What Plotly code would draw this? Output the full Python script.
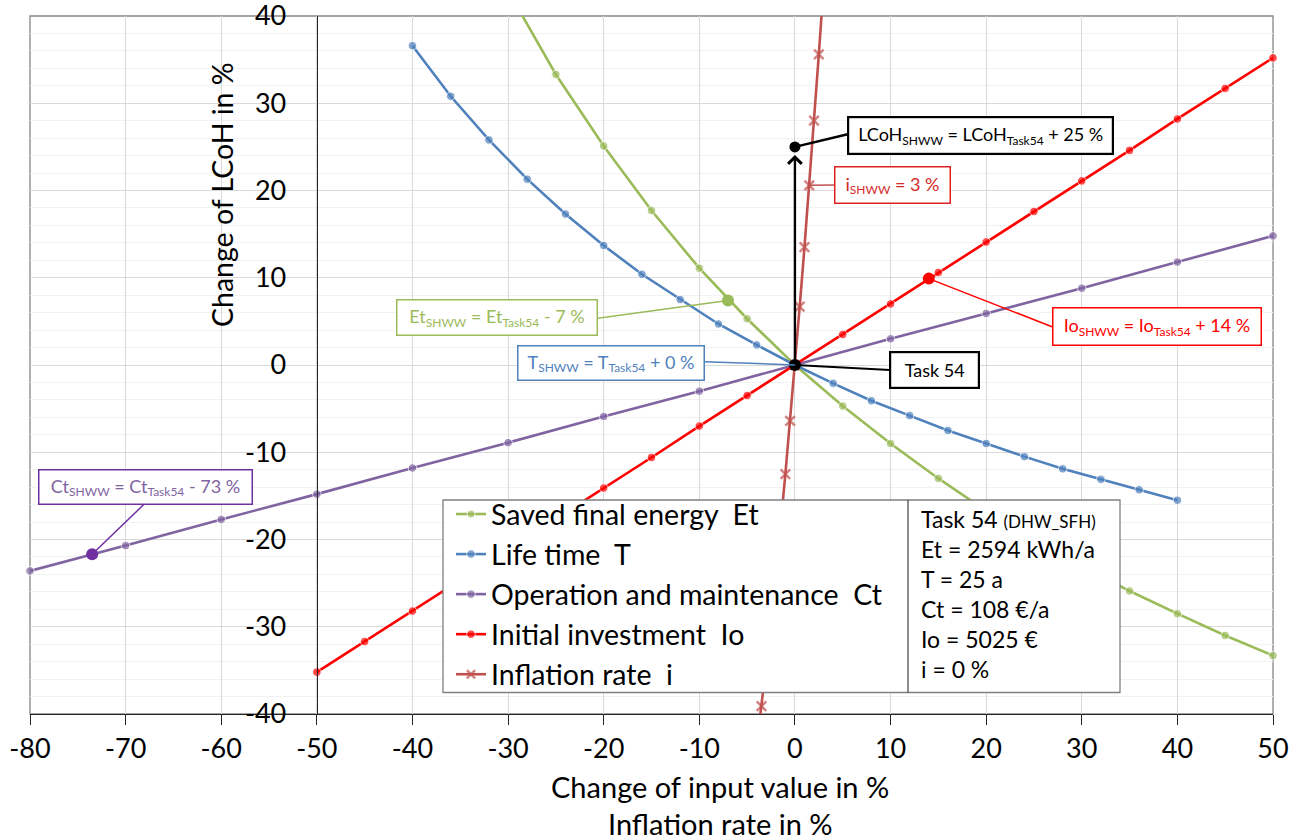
import plotly.graph_objects as go

# ---------------- data ----------------
et_x = [-30, -25, -20, -15, -10, -5, 0, 5, 10, 15, 20, 25, 30, 35, 40, 45, 50]
et_y = [42.9, 33.3, 25.1, 17.7, 11.1, 5.3, 0, -4.7, -9.0, -13.0, -16.7, -20.0, -23.1, -25.9, -28.5, -31.0, -33.3]

t_x = [-40, -36, -32, -28, -24, -20, -16, -12, -8, -4, 0, 4, 8, 12, 16, 20, 24, 28, 32, 36, 40]
t_y = [36.6, 30.8, 25.8, 21.3, 17.3, 13.7, 10.4, 7.5, 4.7, 2.3, 0, -2.1, -4.1, -5.8, -7.5, -9.0, -10.5, -11.9, -13.1, -14.3, -15.5]

ct_x = [-80, -70, -60, -50, -40, -30, -20, -10, 0, 10, 20, 30, 40, 50]
ct_y = [-23.6, -20.7, -17.7, -14.8, -11.8, -8.9, -5.9, -3.0, 0, 3.0, 5.9, 8.8, 11.8, 14.8]

io_x = [-50, -45, -40, -35, -30, -25, -20, -15, -10, -5, 0, 5, 10, 15, 20, 25, 30, 35, 40, 45, 50]
io_y = [-35.2, -31.7, -28.2, -24.7, -21.1, -17.6, -14.1, -10.6, -7.0, -3.5, 0, 3.5, 7.0, 10.6, 14.1, 17.6, 21.1, 24.6, 28.2, 31.7, 35.2]

inf_x = [-4, -3.5, -3, -2.5, -2, -1.5, -1, -0.5, 0, 0.5, 1, 1.5, 2, 2.5, 3]
inf_y = [-43.6, -39.1, -34.3, -29.3, -24.0, -18.4, -12.5, -6.4, 0, 6.7, 13.5, 20.6, 28.0, 35.6, 43.5]

# highlighted SHWW points
et_hl_x, et_hl_y = [-7], [7.4]
io_hl_x, io_hl_y = [14], [9.9]
ct_hl_x, ct_hl_y = [-73.5], [-21.7]
inf_hl_x, inf_hl_y = [1.5], [20.6]
lcoh_x, lcoh_y = [0], [25]
task_x, task_y = [0], [0]

series_names = ["Saved final energy\u00a0 Et", "Life time\u00a0 T",
                "Operation and maintenance\u00a0 Ct", "Initial investment\u00a0 Io",
                "Inflation rate\u00a0 i"]

x_range = [-80, 50]
y_range = [-40, 40]
x_ticks = list(range(-80, 51, 10))
y_ticks = list(range(-40, 41, 10))
x_ticktext = [str(v) for v in x_ticks]
y_ticktext = [str(v) for v in y_ticks]

info_lines = ["Task 54 <span style='font-size:17px'>(DHW_SFH)</span>",
              "Et = 2594 kWh/a", "T = 25 a", "Ct = 108 €/a", "Io = 5025 €", "i = 0 %"]

# ---------------- styling ----------------
FONT = "Lato"
GREEN, BLUE, PURPLE, RED, BROWN = "#9BBB59", "#4F81BD", "#8064A2", "#FF0000", "#C0504D"
DPURPLE = "#7030A0"

W, H = 1303, 840
L, R, T, B = 30, 30, 16, 126
PW, PH = W - L - R, H - T - B


def pxx(px):
    return (px - L) / PW


def pxy(py):
    return (H - B - py) / PH


def dx(px):
    return x_range[0] + (px - L) / PW * (x_range[1] - x_range[0])


def dy(py):
    return y_range[0] + (H - B - py) / PH * (y_range[1] - y_range[0])


def sizes(xs, ys, s):
    return [s if (x_range[0] <= x <= x_range[1] and y_range[0] <= y <= y_range[1]) else 0
            for x, y in zip(xs, ys)]


def sub(t):
    return "<sub><span style='font-size:12px'>%s</span></sub>" % t


fig = go.Figure()

series = [
    (et_x, et_y, GREEN, "circle"),
    (t_x, t_y, BLUE, "circle"),
    (ct_x, ct_y, PURPLE, "circle"),
    (io_x, io_y, RED, "circle"),
    (inf_x, inf_y, BROWN, "x-thin-open"),
]
for (xs, ys, col, sym), name in zip(series, series_names):
    mk = dict(color=col, size=sizes(xs, ys, 8.5 if sym == "circle" else 9.5), symbol=sym)
    if sym != "circle":
        mk["line"] = dict(color=col, width=2.5)
    fig.add_trace(go.Scatter(x=xs, y=ys, mode="lines+markers", name=name,
                             line=dict(color=col, width=2.6), marker=mk,
                             cliponaxis=False))

for xs, ys, col, s in [(et_hl_x, et_hl_y, GREEN, 12), (io_hl_x, io_hl_y, RED, 12),
                       (ct_hl_x, ct_hl_y, DPURPLE, 12),
                       (lcoh_x, lcoh_y, "black", 11), (task_x, task_y, "black", 12)]:
    fig.add_trace(go.Scatter(x=xs, y=ys, mode="markers", showlegend=False,
                             marker=dict(color=col, size=s), cliponaxis=False))

shapes = []
annotations = []

# plot border
shapes.append(dict(type="rect", xref="paper", yref="paper", x0=0, x1=1, y0=0, y1=1,
                   line=dict(color="#868686", width=1.3), layer="below"))

# connectors: (data point, box end in px, colour, width)
connectors = [
    (lcoh_x[0], lcoh_y[0], 847.7, 134.3, "black", 2.5),
    (inf_hl_x[0], inf_hl_y[0], 835, 185, BROWN, 1.5),
    (io_hl_x[0], io_hl_y[0], 1052, 326.7, RED, 1.5),
    (et_hl_x[0], et_hl_y[0], 597.7, 318.3, GREEN, 1.5),
    (task_x[0], task_y[0], 704.3, 361.7, BLUE, 1.5),
    (task_x[0], task_y[0], 890, 370, "black", 2.2),
    (ct_hl_x[0], ct_hl_y[0], 144, 504.3, DPURPLE, 1.5),
]
for x0, y0, bx, by, col, w in connectors:
    shapes.append(dict(type="line", xref="x", yref="y", x0=x0, y0=y0, x1=dx(bx), y1=dy(by),
                       line=dict(color=col, width=w), layer="above"))

# legend / info box background
shapes.append(dict(type="rect", xref="paper", yref="paper", x0=pxx(443), x1=pxx(1120),
                   y0=pxy(692.5), y1=pxy(500), fillcolor="white",
                   line=dict(color="#808080", width=1.3), layer="above"))
shapes.append(dict(type="line", xref="paper", yref="paper", x0=pxx(908), x1=pxx(908),
                   y0=pxy(692.5), y1=pxy(500), line=dict(color="#404040", width=1.2),
                   layer="above"))

# labelled boxes: text, centre px, size px, text colour, border colour, border width
boxes = [
    ("LCoH" + sub("SHWW") + " = LCoH" + sub("Task54") + " + 25 %", 980.5, 135, 263, 35, "black", "black", 2.2),
    ("i" + sub("SHWW") + " = 3 %", 892.9, 185, 114, 35, "#D42A2A", "#E02020", 1.5),
    ("Io" + sub("SHWW") + " = Io" + sub("Task54") + " + 14 %", 1157.2, 326.2, 207, 36, RED, RED, 1.5),
    ("Et" + sub("SHWW") + " = Et" + sub("Task54") + " - 7 %", 497.2, 317.8, 199, 34, GREEN, GREEN, 1.5),
    ("T" + sub("SHWW") + " = T" + sub("Task54") + " + 0 %", 611, 363.2, 185, 33, BLUE, BLUE, 1.5),
    ("Task 54", 934.7, 370.3, 87, 34, "black", "black", 2.2),
    ("Ct" + sub("SHWW") + " = Ct" + sub("Task54") + " - 73 %", 145.3, 486.7, 212, 33, PURPLE, DPURPLE, 1.5),
]
for txt, cx, cy, bw, bh, tc, bc, lw in boxes:
    annotations.append(dict(text=txt, xref="paper", yref="paper", x=pxx(cx), y=pxy(cy),
                            xanchor="center", yanchor="middle", showarrow=False,
                            width=bw, height=bh, borderpad=0, bgcolor="white",
                            bordercolor=bc, borderwidth=lw,
                            font=dict(family=FONT, size=18, color=tc)))

# arrow from Task 54 point up to LCoH SHWW
annotations.append(dict(x=lcoh_x[0], y=lcoh_y[0], xref="x", yref="y",
                        ax=task_x[0], ay=task_y[0], axref="x", ayref="y", text="",
                        showarrow=True, arrowhead=4, arrowsize=1.1, arrowwidth=2.4,
                        arrowcolor="black", standoff=8))

# info text
annotations.append(dict(text="<br>".join(info_lines), xref="paper", yref="paper",
                        x=pxx(919), y=pxy(503), xanchor="left", yanchor="top",
                        align="left", showarrow=False,
                        font=dict(family=FONT, size=23, color="black")))

# axis titles
TITLE_FONT = dict(family=FONT, size=29, color="black")
annotations.append(dict(text="Change of input value in %", xref="paper", yref="paper",
                        x=pxx(720), y=pxy(787), xanchor="center", yanchor="middle",
                        showarrow=False, font=TITLE_FONT))
annotations.append(dict(text="Inflation rate in %", xref="paper", yref="paper",
                        x=pxx(720), y=pxy(823), xanchor="center", yanchor="middle",
                        showarrow=False, font=TITLE_FONT))
annotations.append(dict(text="Change of LCoH in %", xref="paper", yref="paper",
                        x=pxx(222), y=pxy(195), xanchor="center", yanchor="middle",
                        textangle=-90, showarrow=False,
                        font=dict(family=FONT, size=28.5, color="black")))

fig.update_layout(
    width=W, height=H,
    margin=dict(l=L, r=R, t=T, b=B, autoexpand=False),
    paper_bgcolor="white", plot_bgcolor="white",
    font=dict(family=FONT, size=26, color="black"),
    xaxis=dict(range=x_range, tickvals=x_ticks, ticktext=x_ticktext, showgrid=True,
               gridcolor="#D9D9D9", gridwidth=1, zeroline=False, showline=True,
               linecolor="#262626", linewidth=1.3, ticks="outside", ticklen=10,
               tickcolor="#262626", ticklabeloverflow="allow", automargin=False,
               tickfont=dict(family=FONT, size=27, color="black")),
    yaxis=dict(range=y_range, tickvals=y_ticks, ticktext=y_ticktext, showgrid=True,
               gridcolor="#D9D9D9", gridwidth=1, zeroline=False, showline=True,
               linecolor="#262626", linewidth=1.3, ticks="", anchor="free",
               position=(-50 - x_range[0]) / (x_range[1] - x_range[0]),
               ticklabelstandoff=25, ticklabeloverflow="allow", automargin=False,
               minor=dict(dtick=2, showgrid=True, gridcolor="#F2F2F2", gridwidth=1),
               tickfont=dict(family=FONT, size=27, color="black")),
    legend=dict(x=pxx(451), y=pxy(489), xanchor="left", yanchor="top",
                bgcolor="rgba(0,0,0,0)", borderwidth=0, tracegroupgap=0,
                font=dict(family=FONT, size=28.5, color="black")),
    shapes=shapes,
    annotations=annotations,
)

fig.write_html("out.html", config={"displayModeBar": False},
               post_script="document.body.style.margin='0px';"
                           "document.body.style.overflow='hidden';")
